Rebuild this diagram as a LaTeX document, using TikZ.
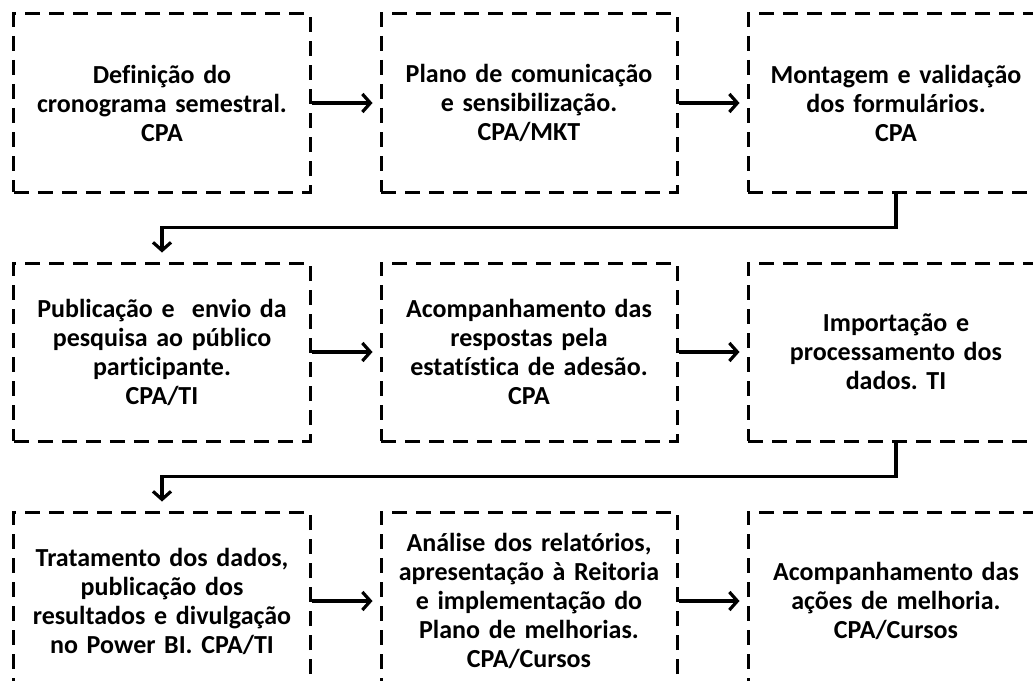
\documentclass[tikz,border=0pt]{standalone}
\usepackage{fontspec}
\setmainfont[Ligatures={NoCommon}]{Carlito}
\usetikzlibrary{positioning,arrows.meta}
\frenchspacing

\begin{document}
\begin{tikzpicture}[
  etapa/.style={draw, rectangle, line width=3pt, dash pattern=on 15pt off 9pt,
    inner xsep=3pt, inner ysep=0pt, text width=290pt, minimum height=178pt,
    align=center, font=\fontsize{26}{29}\selectfont\bfseries},
  seta/.style={-{Straight Barb[length=8pt,width=18pt]}, line width=3.2pt, shorten >=7pt}
]

  \pgfmathsetmacro{\gap}{68}

  % Page frame (right column and last row run off the page)
  \clip (-162pt,103pt) rectangle (871pt,-577pt);

  % First row
  \node[etapa] (defcron) at (0,0) {Definição do\\cronograma semestral.\\CPA};
  \node[etapa, right=\gap pt of defcron] (planocom) {Plano de comunicação\\e sensibilização.\\CPA/MKT};
  \node[etapa, right=\gap pt of planocom] (montagem) {Montagem e validação\\dos formulários.\\CPA};

  % Second row
  \node[etapa, below=\gap pt of defcron] (publicacao) {Publicação e\ \ envio da\\pesquisa ao público\\participante.\\CPA/TI};
  \node[etapa, right=\gap pt of publicacao] (acompresp) {Acompanhamento das\\respostas pela\\estatística de adesão.\\CPA};
  \node[etapa, right=\gap pt of acompresp] (importacao) {Importação e\\processamento dos\\dados. TI};

  % Third row
  \node[etapa, below=\gap pt of publicacao] (tratamento) {Tratamento dos dados,\\publicação dos\\resultados e divulgação\\no Power BI. CPA/TI};
  \node[etapa, right=\gap pt of tratamento] (analise) {Análise dos relatórios,\\apresentação à Reitoria\\e implementação do\\Plano de melhorias.\\CPA/Cursos};
  \node[etapa, right=\gap pt of analise] (acompacoes) {Acompanhamento das\\ações de melhoria.\\CPA/Cursos};

  % Arrows along each row
  \draw[seta] (defcron) -- (planocom);
  \draw[seta] (planocom) -- (montagem);
  \draw[seta] (publicacao) -- (acompresp);
  \draw[seta] (acompresp) -- (importacao);
  \draw[seta] (tratamento) -- (analise);
  \draw[seta] (analise) -- (acompacoes);

  % Turns down to the next row
  \draw[seta, shorten >=9pt] (montagem.south) -- ++(0,-34pt) -| (publicacao.north);
  \draw[seta, shorten >=9pt] (importacao.south) -- ++(0,-34pt) -| (tratamento.north);

\end{tikzpicture}
\end{document}
